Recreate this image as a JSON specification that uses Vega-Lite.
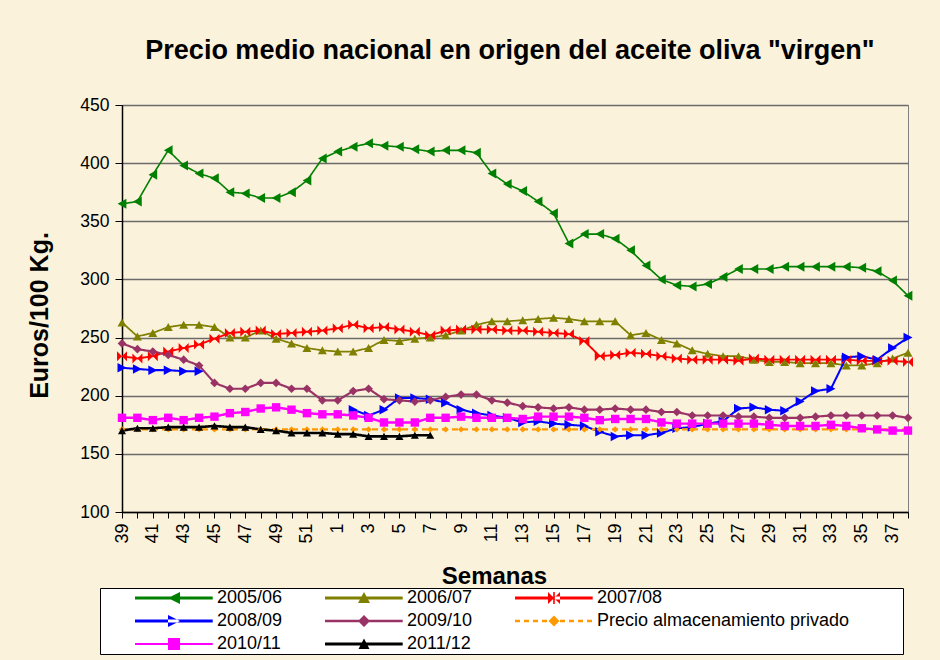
{
"$schema": "https://vega.github.io/schema/vega-lite/v6.json",
"width": 786, "height": 407,
"autosize": {"type": "none"},
"padding": {"left": 122, "top": 105, "right": 32, "bottom": 148},
"background": "#FBF2DB",
"title": {"text": "Precio medio nacional en origen del aceite oliva \"virgen\"", "fontSize": 27, "font": "Liberation Sans", "fontWeight": "bold", "color": "black", "anchor": "middle", "offset": 10, "baseline": "alphabetic", "dx": -5},
"config": {"font": "Liberation Sans", "view": {"stroke": "#808080", "strokeWidth": 1}},
"data": {"values": [
{"serie":"2005/06","semana":39,"precio":365},{"serie":"2005/06","semana":40,"precio":367},{"serie":"2005/06","semana":41,"precio":390},{"serie":"2005/06","semana":42,"precio":411},{"serie":"2005/06","semana":43,"precio":398},{"serie":"2005/06","semana":44,"precio":391},{"serie":"2005/06","semana":45,"precio":387},{"serie":"2005/06","semana":46,"precio":375},{"serie":"2005/06","semana":47,"precio":374},{"serie":"2005/06","semana":48,"precio":370},{"serie":"2005/06","semana":49,"precio":370},{"serie":"2005/06","semana":50,"precio":375},{"serie":"2005/06","semana":51,"precio":385},{"serie":"2005/06","semana":52,"precio":404},{"serie":"2005/06","semana":1,"precio":410},{"serie":"2005/06","semana":2,"precio":414},{"serie":"2005/06","semana":3,"precio":417},{"serie":"2005/06","semana":4,"precio":415},{"serie":"2005/06","semana":5,"precio":414},{"serie":"2005/06","semana":6,"precio":412},{"serie":"2005/06","semana":7,"precio":410},{"serie":"2005/06","semana":8,"precio":411},{"serie":"2005/06","semana":9,"precio":411},{"serie":"2005/06","semana":10,"precio":409},{"serie":"2005/06","semana":11,"precio":391},{"serie":"2005/06","semana":12,"precio":382},{"serie":"2005/06","semana":13,"precio":376},{"serie":"2005/06","semana":14,"precio":367},{"serie":"2005/06","semana":15,"precio":357},{"serie":"2005/06","semana":16,"precio":331},{"serie":"2005/06","semana":17,"precio":339},{"serie":"2005/06","semana":18,"precio":339},{"serie":"2005/06","semana":19,"precio":335},{"serie":"2005/06","semana":20,"precio":325},{"serie":"2005/06","semana":21,"precio":312},{"serie":"2005/06","semana":22,"precio":300},{"serie":"2005/06","semana":23,"precio":295},{"serie":"2005/06","semana":24,"precio":294},{"serie":"2005/06","semana":25,"precio":296},{"serie":"2005/06","semana":26,"precio":302},{"serie":"2005/06","semana":27,"precio":309},{"serie":"2005/06","semana":28,"precio":309},{"serie":"2005/06","semana":29,"precio":309},{"serie":"2005/06","semana":30,"precio":311},{"serie":"2005/06","semana":31,"precio":311},{"serie":"2005/06","semana":32,"precio":311},{"serie":"2005/06","semana":33,"precio":311},{"serie":"2005/06","semana":34,"precio":311},{"serie":"2005/06","semana":35,"precio":310},{"serie":"2005/06","semana":36,"precio":307},{"serie":"2005/06","semana":37,"precio":299},{"serie":"2005/06","semana":38,"precio":286},
{"serie":"2006/07","semana":39,"precio":263},{"serie":"2006/07","semana":40,"precio":251},{"serie":"2006/07","semana":41,"precio":254},{"serie":"2006/07","semana":42,"precio":259},{"serie":"2006/07","semana":43,"precio":261},{"serie":"2006/07","semana":44,"precio":261},{"serie":"2006/07","semana":45,"precio":259},{"serie":"2006/07","semana":46,"precio":250},{"serie":"2006/07","semana":47,"precio":250},{"serie":"2006/07","semana":48,"precio":256},{"serie":"2006/07","semana":49,"precio":249},{"serie":"2006/07","semana":50,"precio":245},{"serie":"2006/07","semana":51,"precio":241},{"serie":"2006/07","semana":52,"precio":239},{"serie":"2006/07","semana":1,"precio":238},{"serie":"2006/07","semana":2,"precio":238},{"serie":"2006/07","semana":3,"precio":241},{"serie":"2006/07","semana":4,"precio":248},{"serie":"2006/07","semana":5,"precio":247},{"serie":"2006/07","semana":6,"precio":249},{"serie":"2006/07","semana":7,"precio":250},{"serie":"2006/07","semana":8,"precio":252},{"serie":"2006/07","semana":9,"precio":256},{"serie":"2006/07","semana":10,"precio":261},{"serie":"2006/07","semana":11,"precio":264},{"serie":"2006/07","semana":12,"precio":264},{"serie":"2006/07","semana":13,"precio":265},{"serie":"2006/07","semana":14,"precio":266},{"serie":"2006/07","semana":15,"precio":267},{"serie":"2006/07","semana":16,"precio":266},{"serie":"2006/07","semana":17,"precio":264},{"serie":"2006/07","semana":18,"precio":264},{"serie":"2006/07","semana":19,"precio":264},{"serie":"2006/07","semana":20,"precio":252},{"serie":"2006/07","semana":21,"precio":254},{"serie":"2006/07","semana":22,"precio":248},{"serie":"2006/07","semana":23,"precio":245},{"serie":"2006/07","semana":24,"precio":239},{"serie":"2006/07","semana":25,"precio":236},{"serie":"2006/07","semana":26,"precio":234},{"serie":"2006/07","semana":27,"precio":234},{"serie":"2006/07","semana":28,"precio":231},{"serie":"2006/07","semana":29,"precio":229},{"serie":"2006/07","semana":30,"precio":229},{"serie":"2006/07","semana":31,"precio":228},{"serie":"2006/07","semana":32,"precio":228},{"serie":"2006/07","semana":33,"precio":228},{"serie":"2006/07","semana":34,"precio":226},{"serie":"2006/07","semana":35,"precio":226},{"serie":"2006/07","semana":36,"precio":228},{"serie":"2006/07","semana":37,"precio":232},{"serie":"2006/07","semana":38,"precio":237},
{"serie":"2007/08","semana":39,"precio":234},{"serie":"2007/08","semana":40,"precio":232},{"serie":"2007/08","semana":41,"precio":234},{"serie":"2007/08","semana":42,"precio":238},{"serie":"2007/08","semana":43,"precio":241},{"serie":"2007/08","semana":44,"precio":244},{"serie":"2007/08","semana":45,"precio":249},{"serie":"2007/08","semana":46,"precio":254},{"serie":"2007/08","semana":47,"precio":255},{"serie":"2007/08","semana":48,"precio":256},{"serie":"2007/08","semana":49,"precio":253},{"serie":"2007/08","semana":50,"precio":254},{"serie":"2007/08","semana":51,"precio":255},{"serie":"2007/08","semana":52,"precio":256},{"serie":"2007/08","semana":1,"precio":258},{"serie":"2007/08","semana":2,"precio":261},{"serie":"2007/08","semana":3,"precio":258},{"serie":"2007/08","semana":4,"precio":259},{"serie":"2007/08","semana":5,"precio":257},{"serie":"2007/08","semana":6,"precio":255},{"serie":"2007/08","semana":7,"precio":252},{"serie":"2007/08","semana":8,"precio":256},{"serie":"2007/08","semana":9,"precio":257},{"serie":"2007/08","semana":10,"precio":257},{"serie":"2007/08","semana":11,"precio":257},{"serie":"2007/08","semana":12,"precio":256},{"serie":"2007/08","semana":13,"precio":256},{"serie":"2007/08","semana":14,"precio":255},{"serie":"2007/08","semana":15,"precio":254},{"serie":"2007/08","semana":16,"precio":253},{"serie":"2007/08","semana":17,"precio":247},{"serie":"2007/08","semana":18,"precio":234},{"serie":"2007/08","semana":19,"precio":235},{"serie":"2007/08","semana":20,"precio":237},{"serie":"2007/08","semana":21,"precio":236},{"serie":"2007/08","semana":22,"precio":234},{"serie":"2007/08","semana":23,"precio":232},{"serie":"2007/08","semana":24,"precio":231},{"serie":"2007/08","semana":25,"precio":231},{"serie":"2007/08","semana":26,"precio":231},{"serie":"2007/08","semana":27,"precio":230},{"serie":"2007/08","semana":28,"precio":232},{"serie":"2007/08","semana":29,"precio":231},{"serie":"2007/08","semana":30,"precio":231},{"serie":"2007/08","semana":31,"precio":231},{"serie":"2007/08","semana":32,"precio":231},{"serie":"2007/08","semana":33,"precio":231},{"serie":"2007/08","semana":34,"precio":231},{"serie":"2007/08","semana":35,"precio":230},{"serie":"2007/08","semana":36,"precio":230},{"serie":"2007/08","semana":37,"precio":230},{"serie":"2007/08","semana":38,"precio":229},
{"serie":"2008/09","semana":39,"precio":224},{"serie":"2008/09","semana":40,"precio":223},{"serie":"2008/09","semana":41,"precio":222},{"serie":"2008/09","semana":42,"precio":222},{"serie":"2008/09","semana":43,"precio":221},{"serie":"2008/09","semana":44,"precio":221},{"serie":"2008/09","semana":45,"precio":null},{"serie":"2008/09","semana":46,"precio":null},{"serie":"2008/09","semana":47,"precio":null},{"serie":"2008/09","semana":48,"precio":null},{"serie":"2008/09","semana":49,"precio":null},{"serie":"2008/09","semana":50,"precio":null},{"serie":"2008/09","semana":51,"precio":null},{"serie":"2008/09","semana":52,"precio":null},{"serie":"2008/09","semana":1,"precio":null},{"serie":"2008/09","semana":2,"precio":188},{"serie":"2008/09","semana":3,"precio":183},{"serie":"2008/09","semana":4,"precio":188},{"serie":"2008/09","semana":5,"precio":198},{"serie":"2008/09","semana":6,"precio":198},{"serie":"2008/09","semana":7,"precio":197},{"serie":"2008/09","semana":8,"precio":194},{"serie":"2008/09","semana":9,"precio":188},{"serie":"2008/09","semana":10,"precio":185},{"serie":"2008/09","semana":11,"precio":183},{"serie":"2008/09","semana":12,"precio":181},{"serie":"2008/09","semana":13,"precio":177},{"serie":"2008/09","semana":14,"precio":178},{"serie":"2008/09","semana":15,"precio":176},{"serie":"2008/09","semana":16,"precio":175},{"serie":"2008/09","semana":17,"precio":174},{"serie":"2008/09","semana":18,"precio":169},{"serie":"2008/09","semana":19,"precio":165},{"serie":"2008/09","semana":20,"precio":166},{"serie":"2008/09","semana":21,"precio":166},{"serie":"2008/09","semana":22,"precio":168},{"serie":"2008/09","semana":23,"precio":172},{"serie":"2008/09","semana":24,"precio":173},{"serie":"2008/09","semana":25,"precio":176},{"serie":"2008/09","semana":26,"precio":178},{"serie":"2008/09","semana":27,"precio":189},{"serie":"2008/09","semana":28,"precio":190},{"serie":"2008/09","semana":29,"precio":188},{"serie":"2008/09","semana":30,"precio":187},{"serie":"2008/09","semana":31,"precio":195},{"serie":"2008/09","semana":32,"precio":204},{"serie":"2008/09","semana":33,"precio":206},{"serie":"2008/09","semana":34,"precio":233},{"serie":"2008/09","semana":35,"precio":234},{"serie":"2008/09","semana":36,"precio":231},{"serie":"2008/09","semana":37,"precio":241},{"serie":"2008/09","semana":38,"precio":250},
{"serie":"2009/10","semana":39,"precio":245},{"serie":"2009/10","semana":40,"precio":240},{"serie":"2009/10","semana":41,"precio":238},{"serie":"2009/10","semana":42,"precio":235},{"serie":"2009/10","semana":43,"precio":231},{"serie":"2009/10","semana":44,"precio":226},{"serie":"2009/10","semana":45,"precio":211},{"serie":"2009/10","semana":46,"precio":206},{"serie":"2009/10","semana":47,"precio":206},{"serie":"2009/10","semana":48,"precio":211},{"serie":"2009/10","semana":49,"precio":211},{"serie":"2009/10","semana":50,"precio":206},{"serie":"2009/10","semana":51,"precio":206},{"serie":"2009/10","semana":52,"precio":196},{"serie":"2009/10","semana":1,"precio":196},{"serie":"2009/10","semana":2,"precio":204},{"serie":"2009/10","semana":3,"precio":206},{"serie":"2009/10","semana":4,"precio":197},{"serie":"2009/10","semana":5,"precio":196},{"serie":"2009/10","semana":6,"precio":195},{"serie":"2009/10","semana":7,"precio":196},{"serie":"2009/10","semana":8,"precio":199},{"serie":"2009/10","semana":9,"precio":201},{"serie":"2009/10","semana":10,"precio":201},{"serie":"2009/10","semana":11,"precio":196},{"serie":"2009/10","semana":12,"precio":194},{"serie":"2009/10","semana":13,"precio":191},{"serie":"2009/10","semana":14,"precio":190},{"serie":"2009/10","semana":15,"precio":189},{"serie":"2009/10","semana":16,"precio":190},{"serie":"2009/10","semana":17,"precio":188},{"serie":"2009/10","semana":18,"precio":188},{"serie":"2009/10","semana":19,"precio":189},{"serie":"2009/10","semana":20,"precio":188},{"serie":"2009/10","semana":21,"precio":188},{"serie":"2009/10","semana":22,"precio":186},{"serie":"2009/10","semana":23,"precio":186},{"serie":"2009/10","semana":24,"precio":183},{"serie":"2009/10","semana":25,"precio":183},{"serie":"2009/10","semana":26,"precio":183},{"serie":"2009/10","semana":27,"precio":182},{"serie":"2009/10","semana":28,"precio":182},{"serie":"2009/10","semana":29,"precio":181},{"serie":"2009/10","semana":30,"precio":181},{"serie":"2009/10","semana":31,"precio":181},{"serie":"2009/10","semana":32,"precio":182},{"serie":"2009/10","semana":33,"precio":183},{"serie":"2009/10","semana":34,"precio":183},{"serie":"2009/10","semana":35,"precio":183},{"serie":"2009/10","semana":36,"precio":183},{"serie":"2009/10","semana":37,"precio":183},{"serie":"2009/10","semana":38,"precio":181},
{"serie":"Precio almacenamiento privado","semana":39,"precio":171},{"serie":"Precio almacenamiento privado","semana":40,"precio":171},{"serie":"Precio almacenamiento privado","semana":41,"precio":171},{"serie":"Precio almacenamiento privado","semana":42,"precio":171},{"serie":"Precio almacenamiento privado","semana":43,"precio":171},{"serie":"Precio almacenamiento privado","semana":44,"precio":171},{"serie":"Precio almacenamiento privado","semana":45,"precio":171},{"serie":"Precio almacenamiento privado","semana":46,"precio":171},{"serie":"Precio almacenamiento privado","semana":47,"precio":171},{"serie":"Precio almacenamiento privado","semana":48,"precio":171},{"serie":"Precio almacenamiento privado","semana":49,"precio":171},{"serie":"Precio almacenamiento privado","semana":50,"precio":171},{"serie":"Precio almacenamiento privado","semana":51,"precio":171},{"serie":"Precio almacenamiento privado","semana":52,"precio":171},{"serie":"Precio almacenamiento privado","semana":1,"precio":171},{"serie":"Precio almacenamiento privado","semana":2,"precio":171},{"serie":"Precio almacenamiento privado","semana":3,"precio":171},{"serie":"Precio almacenamiento privado","semana":4,"precio":171},{"serie":"Precio almacenamiento privado","semana":5,"precio":171},{"serie":"Precio almacenamiento privado","semana":6,"precio":171},{"serie":"Precio almacenamiento privado","semana":7,"precio":171},{"serie":"Precio almacenamiento privado","semana":8,"precio":171},{"serie":"Precio almacenamiento privado","semana":9,"precio":171},{"serie":"Precio almacenamiento privado","semana":10,"precio":171},{"serie":"Precio almacenamiento privado","semana":11,"precio":171},{"serie":"Precio almacenamiento privado","semana":12,"precio":171},{"serie":"Precio almacenamiento privado","semana":13,"precio":171},{"serie":"Precio almacenamiento privado","semana":14,"precio":171},{"serie":"Precio almacenamiento privado","semana":15,"precio":171},{"serie":"Precio almacenamiento privado","semana":16,"precio":171},{"serie":"Precio almacenamiento privado","semana":17,"precio":171},{"serie":"Precio almacenamiento privado","semana":18,"precio":171},{"serie":"Precio almacenamiento privado","semana":19,"precio":171},{"serie":"Precio almacenamiento privado","semana":20,"precio":171},{"serie":"Precio almacenamiento privado","semana":21,"precio":171},{"serie":"Precio almacenamiento privado","semana":22,"precio":171},{"serie":"Precio almacenamiento privado","semana":23,"precio":171},{"serie":"Precio almacenamiento privado","semana":24,"precio":171},{"serie":"Precio almacenamiento privado","semana":25,"precio":171},{"serie":"Precio almacenamiento privado","semana":26,"precio":171},{"serie":"Precio almacenamiento privado","semana":27,"precio":171},{"serie":"Precio almacenamiento privado","semana":28,"precio":171},{"serie":"Precio almacenamiento privado","semana":29,"precio":171},{"serie":"Precio almacenamiento privado","semana":30,"precio":171},{"serie":"Precio almacenamiento privado","semana":31,"precio":171},{"serie":"Precio almacenamiento privado","semana":32,"precio":171},{"serie":"Precio almacenamiento privado","semana":33,"precio":171},{"serie":"Precio almacenamiento privado","semana":34,"precio":171},{"serie":"Precio almacenamiento privado","semana":35,"precio":171},{"serie":"Precio almacenamiento privado","semana":36,"precio":171},{"serie":"Precio almacenamiento privado","semana":37,"precio":171},{"serie":"Precio almacenamiento privado","semana":38,"precio":171},
{"serie":"2010/11","semana":39,"precio":181},{"serie":"2010/11","semana":40,"precio":181},{"serie":"2010/11","semana":41,"precio":179},{"serie":"2010/11","semana":42,"precio":181},{"serie":"2010/11","semana":43,"precio":179},{"serie":"2010/11","semana":44,"precio":181},{"serie":"2010/11","semana":45,"precio":182},{"serie":"2010/11","semana":46,"precio":185},{"serie":"2010/11","semana":47,"precio":186},{"serie":"2010/11","semana":48,"precio":189},{"serie":"2010/11","semana":49,"precio":190},{"serie":"2010/11","semana":50,"precio":188},{"serie":"2010/11","semana":51,"precio":185},{"serie":"2010/11","semana":52,"precio":184},{"serie":"2010/11","semana":1,"precio":184},{"serie":"2010/11","semana":2,"precio":183},{"serie":"2010/11","semana":3,"precio":181},{"serie":"2010/11","semana":4,"precio":177},{"serie":"2010/11","semana":5,"precio":177},{"serie":"2010/11","semana":6,"precio":177},{"serie":"2010/11","semana":7,"precio":181},{"serie":"2010/11","semana":8,"precio":181},{"serie":"2010/11","semana":9,"precio":182},{"serie":"2010/11","semana":10,"precio":181},{"serie":"2010/11","semana":11,"precio":181},{"serie":"2010/11","semana":12,"precio":181},{"serie":"2010/11","semana":13,"precio":180},{"serie":"2010/11","semana":14,"precio":182},{"serie":"2010/11","semana":15,"precio":182},{"serie":"2010/11","semana":16,"precio":182},{"serie":"2010/11","semana":17,"precio":181},{"serie":"2010/11","semana":18,"precio":179},{"serie":"2010/11","semana":19,"precio":180},{"serie":"2010/11","semana":20,"precio":180},{"serie":"2010/11","semana":21,"precio":180},{"serie":"2010/11","semana":22,"precio":177},{"serie":"2010/11","semana":23,"precio":176},{"serie":"2010/11","semana":24,"precio":176},{"serie":"2010/11","semana":25,"precio":176},{"serie":"2010/11","semana":26,"precio":176},{"serie":"2010/11","semana":27,"precio":176},{"serie":"2010/11","semana":28,"precio":176},{"serie":"2010/11","semana":29,"precio":175},{"serie":"2010/11","semana":30,"precio":174},{"serie":"2010/11","semana":31,"precio":174},{"serie":"2010/11","semana":32,"precio":174},{"serie":"2010/11","semana":33,"precio":175},{"serie":"2010/11","semana":34,"precio":174},{"serie":"2010/11","semana":35,"precio":172},{"serie":"2010/11","semana":36,"precio":171},{"serie":"2010/11","semana":37,"precio":170},{"serie":"2010/11","semana":38,"precio":170},
{"serie":"2011/12","semana":39,"precio":170},{"serie":"2011/12","semana":40,"precio":172},{"serie":"2011/12","semana":41,"precio":172},{"serie":"2011/12","semana":42,"precio":173},{"serie":"2011/12","semana":43,"precio":173},{"serie":"2011/12","semana":44,"precio":173},{"serie":"2011/12","semana":45,"precio":174},{"serie":"2011/12","semana":46,"precio":173},{"serie":"2011/12","semana":47,"precio":173},{"serie":"2011/12","semana":48,"precio":171},{"serie":"2011/12","semana":49,"precio":170},{"serie":"2011/12","semana":50,"precio":168},{"serie":"2011/12","semana":51,"precio":168},{"serie":"2011/12","semana":52,"precio":168},{"serie":"2011/12","semana":1,"precio":167},{"serie":"2011/12","semana":2,"precio":167},{"serie":"2011/12","semana":3,"precio":165},{"serie":"2011/12","semana":4,"precio":165},{"serie":"2011/12","semana":5,"precio":165},{"serie":"2011/12","semana":6,"precio":166},{"serie":"2011/12","semana":7,"precio":166}
]},
"encoding": {
  "x": {"field": "semana", "type": "ordinal",
    "scale": {"type": "point", "padding": 0, "domain": [39,40,41,42,43,44,45,46,47,48,49,50,51,52,1,2,3,4,5,6,7,8,9,10,11,12,13,14,15,16,17,18,19,20,21,22,23,24,25,26,27,28,29,30,31,32,33,34,35,36,37,38]},
    "axis": {"title": "Semanas", "labelAngle": 270, "labelFontSize": 18, "labelPadding": 5, "labelOverlap": false, "labelExpr": "datum.value % 2 == 1 ? datum.label : ''", "tickSize": 6, "tickColor": "black", "domainColor": "black", "domainWidth": 1.5, "labelColor": "black", "grid": false, "titleFontSize": 24, "titleFontWeight": "bold", "titleColor": "black", "titleX": 372, "titleY": 71, "titleBaseline": "alphabetic", "titleAlign": "center"}},
  "y": {"field": "precio", "type": "quantitative",
    "scale": {"domain": [100, 450], "nice": false, "zero": false},
    "axis": {"title": "Euros/100 Kg.", "values": [100,150,200,250,300,350,400,450], "labelFontSize": 17.5, "labelPadding": 6, "tickSize": 7, "tickColor": "black", "domainColor": "black", "domainWidth": 1.5, "labelColor": "black", "grid": true, "gridColor": "#6b6b6b", "gridWidth": 1.3, "titleFontSize": 25, "titleFontWeight": "bold", "titleColor": "black", "titleAngle": 270, "titleX": -75, "titleY": 210, "titleAlign": "center", "titleBaseline": "alphabetic"}},
  "color": {"field": "serie", "type": "nominal",
    "scale": {"domain": ["2005/06","2006/07","2007/08","2008/09","2009/10","Precio almacenamiento privado","2010/11","2011/12"], "range": ["#008000","#808000","#FF0000","#0000FF","#993366","#FF9900","#FF00FF","#000000"]},
    "legend": {"title": null, "orient": "none", "direction": "horizontal", "legendX": -22, "legendY": 483, "columns": 3, "symbolSize": 4, "symbolOffset": 0, "symbolStrokeWidth": 0, "symbolOpacity": 1, "labelFontSize": 18, "labelFont": "Liberation Sans", "labelColor": "black", "labelOffset": 98, "labelLimit": 500, "rowPadding": 5, "columnPadding": 8, "padding": 1, "strokeColor": "black", "fillColor": "white",
      "labelExpr": "datum.label === 'Precio almacenamiento privado' ? datum.label + '\u2800\u2800\u2800\u2800' : datum.label"}}
},
"layer": [
  {"mark": {"type": "line"},
   "encoding": {
     "strokeWidth": {"field": "serie", "type": "nominal", "legend": null,
       "scale": {"domain": ["2011/12","2010/11","Precio almacenamiento privado","2009/10","2008/09","2007/08","2006/07","2005/06"], "range": [2.6,1.6,2.5,2,3,3,3,3]}},
     "strokeDash": {"field": "serie", "type": "nominal", "legend": null,
       "scale": {"domain": ["2011/12","2010/11","Precio almacenamiento privado","2009/10","2008/09","2007/08","2006/07","2005/06"], "range": [[1,0],[1,0],[6,4],[1,0],[1,0],[1,0],[1,0],[1,0]]}},
     "order": {"value": null}
   }},
  {"transform": [{"filter": "false"}],
   "mark": {"type": "point", "filled": true, "opacity": 1},
   "encoding": {
     "shape": {"field": "serie", "type": "nominal", "legend": null,
       "scale": {"domain": ["2005/06","2006/07","2007/08","2008/09","2009/10","Precio almacenamiento privado","2010/11","2011/12"],
         "range": ["M-1,0M25,-1.5H102.7V1.5H25ZM58,0L70,-6L70,6Z",
                   "M-1,0M25,-1.5H102.7V1.5H25ZM64,-6L70,5L58,5Z",
                   "M-1,0M25,-1.5H102.7V1.5H25ZM58,-6L64,0L58,6ZM70,-6L64,0L70,6ZM63.2,-6H64.8V6H63.2Z",
                   "M-1,0M25,-1.5H102.7V1.5H25ZM70,0L58,-6L58,6Z",
                   "M-1,0M25,-1.2H102.7V1.2H25ZM64,-6L70,0L64,6L58,0Z",
                   "M-1,0M25,-1.2H30V1.2H25ZM34,-1.2H39V1.2H34ZM43,-1.2H48V1.2H43ZM52,-1.2H57V1.2H52ZM70,-1.2H75V1.2H70ZM79,-1.2H84V1.2H79ZM88,-1.2H93V1.2H88ZM97,-1.2H102V1.2H97ZM64,-5.5L69.5,0L64,5.5L58.5,0Z",
                   "M-1,0M25,-1H102.7V1H25ZM58,-6H70V6H58Z",
                   "M-1,0M25,-1.5H102.7V1.5H25ZM64,-5.5L69.5,5L58.5,5Z"]}}
   }},
  {"transform": [{"filter": "datum.serie === '2005/06'"}], "mark": {"type": "point", "filled": true, "opacity": 1, "strokeWidth": 0, "size": 100, "shape": "M-0.87,0L0.87,-1L0.87,1Z"}},
  {"transform": [{"filter": "datum.serie === '2006/07'"}], "mark": {"type": "point", "filled": true, "opacity": 1, "strokeWidth": 0, "size": 100, "shape": "M0,-0.8L0.9,0.8L-0.9,0.8Z"}},
  {"transform": [{"filter": "datum.serie === '2007/08'"}], "mark": {"type": "point", "filled": true, "opacity": 1, "strokeWidth": 0, "size": 100, "shape": "M-1,-1L0,0L-1,1ZM1,-1L0,0L1,1Z"}},
  {"transform": [{"filter": "datum.serie === '2008/09'"}], "mark": {"type": "point", "filled": true, "opacity": 1, "strokeWidth": 0, "size": 100, "shape": "M0.9,0L-0.9,-0.95L-0.9,0.95Z"}},
  {"transform": [{"filter": "datum.serie === '2009/10'"}], "mark": {"type": "point", "filled": true, "opacity": 1, "strokeWidth": 0, "size": 100, "shape": "M0,-0.87L0.87,0L0,0.87L-0.87,0Z"}},
  {"transform": [{"filter": "datum.serie === 'Precio almacenamiento privado'"}], "mark": {"type": "point", "filled": true, "opacity": 1, "strokeWidth": 0, "size": 100, "shape": "M0,-0.63L0.63,0L0,0.63L-0.63,0Z"}},
  {"transform": [{"filter": "datum.serie === '2010/11'"}], "mark": {"type": "point", "filled": true, "opacity": 1, "strokeWidth": 0, "size": 100, "shape": "M-0.84,-0.84H0.84V0.84H-0.84Z"}},
  {"transform": [{"filter": "datum.serie === '2011/12'"}], "mark": {"type": "point", "filled": true, "opacity": 1, "strokeWidth": 0, "size": 100, "shape": "M0,-0.72L0.8,0.72L-0.8,0.72Z"}}
]
}
